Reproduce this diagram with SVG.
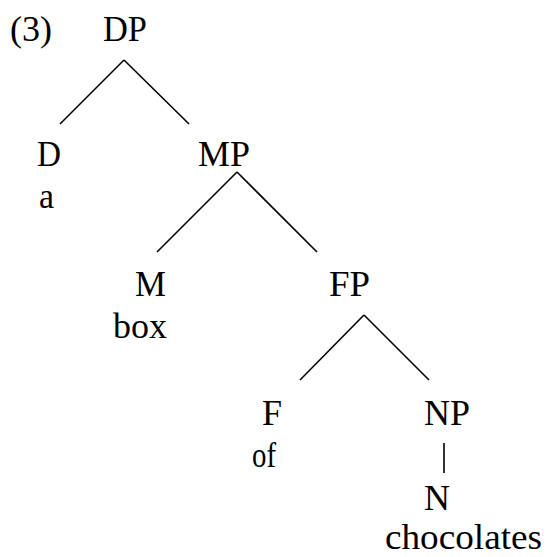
<svg xmlns="http://www.w3.org/2000/svg" width="547" height="557" viewBox="0 0 547 557">
<style>
text{font-family:"Liberation Serif","Liberation Sans",sans-serif;font-size:35px;fill:#000}
.e{stroke:#000;stroke-width:1.6;fill:none}
</style>
<rect width="547" height="557" fill="#fff"/>
<text x="10" y="41" textLength="42" lengthAdjust="spacingAndGlyphs">(3)</text>
<g id="connectors">
<line class="e" x1="124" y1="60" x2="60" y2="124"/>
<line class="e" x1="124" y1="60" x2="189" y2="124"/>
<line class="e" x1="237" y1="172" x2="157" y2="252"/>
<line class="e" x1="237" y1="172" x2="317" y2="252"/>
<line class="e" x1="364" y1="315" x2="300" y2="380"/>
<line class="e" x1="364" y1="315" x2="429" y2="380"/>
<line class="e" x1="444" y1="443" x2="444" y2="473"/>
</g>
<g id="DP"><text x="103" y="41" textLength="44" lengthAdjust="spacingAndGlyphs">DP</text></g>
<g id="D"><text x="37" y="166" textLength="24" lengthAdjust="spacingAndGlyphs">D</text><text x="39" y="208" textLength="15" lengthAdjust="spacingAndGlyphs">a</text></g>
<g id="MP"><text x="198" y="166" textLength="52" lengthAdjust="spacingAndGlyphs">MP</text></g>
<g id="M"><text x="135" y="296" textLength="31" lengthAdjust="spacingAndGlyphs">M</text><text x="113" y="338" textLength="54" lengthAdjust="spacingAndGlyphs">box</text></g>
<g id="FP"><text x="329" y="296" textLength="41" lengthAdjust="spacingAndGlyphs">FP</text></g>
<g id="F"><text x="262" y="425" textLength="20" lengthAdjust="spacingAndGlyphs">F</text><text x="252" y="467" textLength="24" lengthAdjust="spacingAndGlyphs">of</text></g>
<g id="NP"><text x="424" y="425" textLength="46" lengthAdjust="spacingAndGlyphs">NP</text></g>
<g id="N"><text x="424" y="510" textLength="26" lengthAdjust="spacingAndGlyphs">N</text><text x="385" y="549" textLength="157" lengthAdjust="spacingAndGlyphs">chocolates</text></g>
</svg>
